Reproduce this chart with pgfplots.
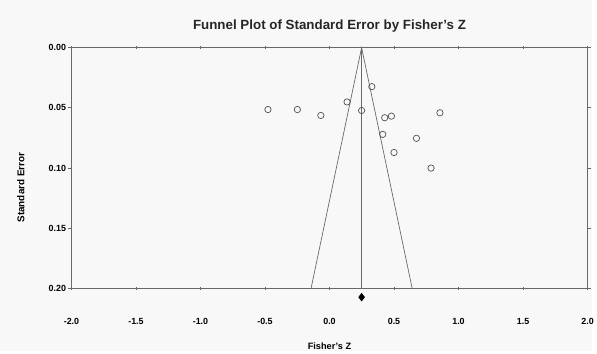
\documentclass[border=0pt]{standalone}
\usepackage{pgfplots}
\pgfplotsset{compat=1.18}
\usepackage{fontspec}
\setmainfont{Liberation Sans}
\definecolor{bgc}{HTML}{F8F8F8}
\definecolor{axc}{HTML}{686868}
\definecolor{ptc}{HTML}{505050}
\begin{document}
\begin{tikzpicture}
\fill[bgc] (0,0) rectangle (597bp,354bp);
\begin{axis}[
  at={(72bp,63.3bp)}, anchor=south west,
  scale only axis, width=520bp, height=242.7bp,
  xmin=-2, xmax=2, ymin=0, ymax=0.2,
  y dir=reverse,
  axis line style={axc, line width=0.8pt},
  xtick={-2,-1.5,-1,-0.5,0,0.5,1,1.5,2},
  ytick={0,0.05,0.1,0.15,0.2},
  major tick length=3bp,
  tick style={axc, line width=0.8pt},
  xtick align=center, ytick align=outside,
  x tick label style={font=\fontsize{9}{10}\selectfont\bfseries, yshift=-25bp,
    /pgf/number format/.cd, fixed, fixed zerofill, precision=1},
  y tick label style={font=\fontsize{9}{10}\selectfont\bfseries, xshift=1bp,
    /pgf/number format/.cd, fixed, fixed zerofill, precision=2},
  /pgf/number format/assume math mode=true,
  clip=false,
]
\addplot[axc, line width=0.8pt] coordinates {(0.249,0) (0.249,0.2)};
\addplot[axc, line width=0.7pt] coordinates {(-0.143,0.2) (0.249,0) (0.641,0.2)};
\addplot[only marks, mark=o, mark size=3.2bp, mark options={ptc, line width=0.7pt}] coordinates {
(-0.477,0.0514) (-0.249,0.0514) (-0.067,0.0563) (0.136,0.0451) (0.249,0.0522)
(0.328,0.0324) (0.428,0.0582) (0.480,0.0569) (0.856,0.0541) (0.413,0.0720)
(0.674,0.0753) (0.500,0.0871) (0.787,0.1000)
};
\addplot[only marks, mark=diamond*, mark size=4bp, black] coordinates {(0.249,0.2072)};
\end{axis}
\node[font=\fontsize{13.5}{15}\selectfont\bfseries, text=black!85] at (332bp,328bp) {Funnel Plot of Standard Error by Fisher{\char"27}s Z};
\node[font=\fontsize{10}{11}\selectfont\bfseries, rotate=90] at (21bp,165bp) {Standard Error};
\node[font=\fontsize{9.3}{10}\selectfont\bfseries] at (332bp,5bp) {Fisher{\char"27}s Z};
\end{tikzpicture}
\end{document}
